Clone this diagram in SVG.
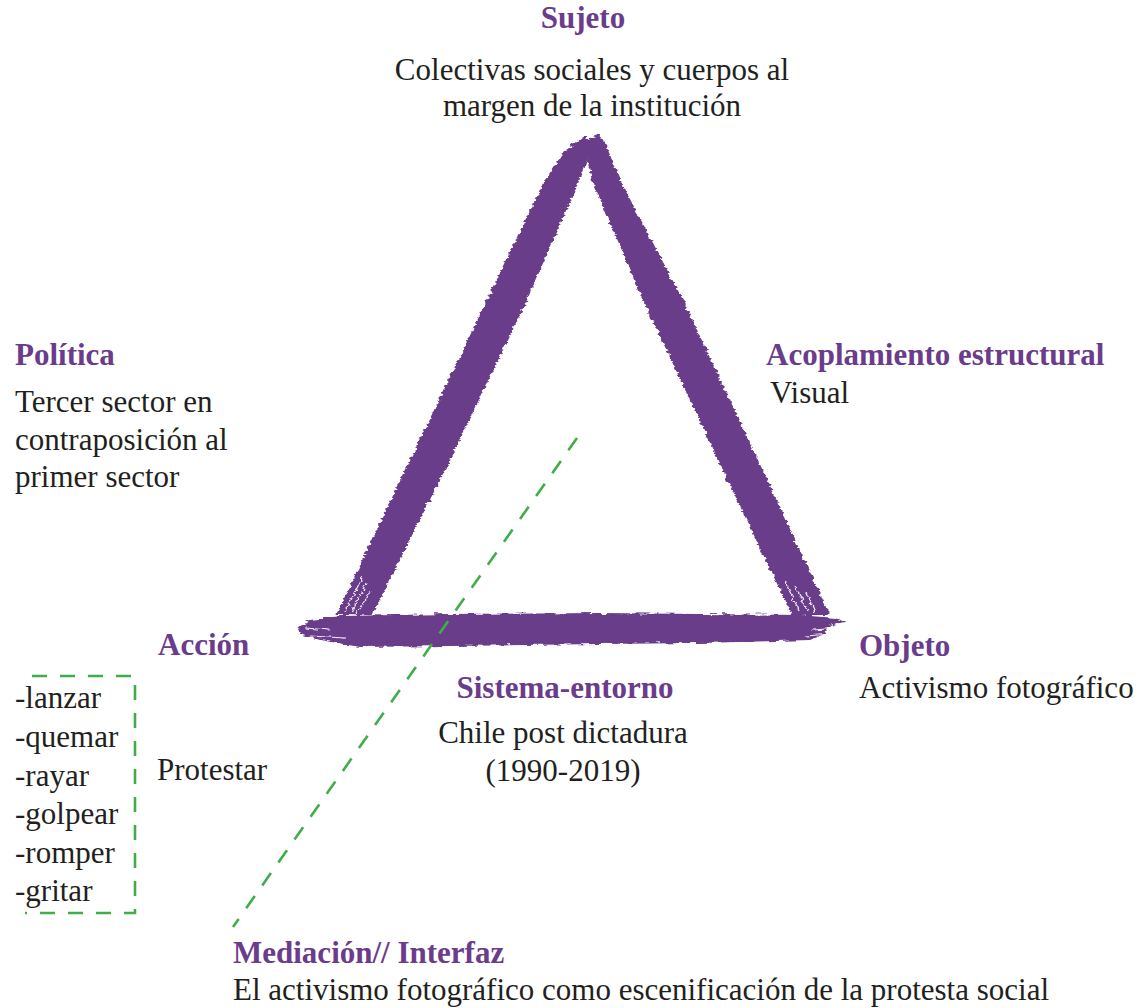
<svg xmlns="http://www.w3.org/2000/svg" width="1141" height="1008" viewBox="0 0 1141 1008">
<defs>
<style>
text{font-family:"Liberation Serif","Times New Roman",serif;font-size:31px;fill:#231f20}
.h{font-weight:bold;fill:#6a3c8b}
.brush{fill:#6a3c8b}
.streak{stroke:#ffffff;stroke-width:1.2;fill:none;opacity:0.9}
.dash{fill:none;stroke:#3fae49;stroke-width:2.6;stroke-dasharray:15 13}
</style>
<filter id="rough" x="-5%" y="-5%" width="110%" height="110%">
<feTurbulence type="fractalNoise" baseFrequency="0.09 0.35" numOctaves="2" seed="3" result="n"/>
<feDisplacementMap in="SourceGraphic" in2="n" scale="6" xChannelSelector="R" yChannelSelector="G"/>
</filter>
</defs>
<rect width="1141" height="1008" fill="#ffffff"/>
<g id="triangle" filter="url(#rough)">
<polygon class="brush" points="586,136 592,145 584,170 575,190 527,300 450,460 372,615 336,615 410,460 487,300 545,180 565,150"/>
<polygon class="brush" points="590,137 598,134 606,145 620,180 683,300 758,460 830,615 792,615 718,460 643,300 592,180 586,155"/>
<polygon class="brush" points="298,628 310,620 340,616 450,614 600,613 700,614 800,615 835,618 845,622 830,626 825,634 810,640 700,643 600,644 450,646 360,647 320,640 300,634"/>
<path class="streak" d="M345,612 L362,578 M352,612 L366,584 M356,613 L371,592 M800,612 L784,580 M808,612 L795,586 M815,612 L806,592 M812,630 L840,628 M805,636 L832,634 M310,636 L345,638 M305,628 L330,630"/>
</g>
<g id="connectors">
<line class="dash" x1="577" y1="438" x2="233" y2="927"/>
<path class="dash" d="M32,676 H135 V913 H25"/>
</g>
<g id="sujeto">
<text class="h" x="583" y="28" text-anchor="middle">Sujeto</text>
<text x="592" y="80" text-anchor="middle">Colectivas sociales y cuerpos al</text>
<text x="592" y="116" text-anchor="middle">margen de la institución</text>
</g>
<g id="politica">
<text class="h" x="15" y="365">Política</text>
<text x="15" y="412">Tercer sector en</text>
<text x="15" y="450">contraposición al</text>
<text x="15" y="487">primer sector</text>
</g>
<g id="acoplamiento">
<text class="h" x="766" y="365">Acoplamiento estructural</text>
<text x="770" y="403">Visual</text>
</g>
<g id="accion">
<text class="h" x="158" y="655">Acción</text>
<text x="157" y="780">Protestar</text>
<text x="15" y="708">-lanzar</text>
<text x="15" y="747">-quemar</text>
<text x="15" y="786">-rayar</text>
<text x="15" y="824">-golpear</text>
<text x="15" y="863">-romper</text>
<text x="15" y="901">-gritar</text>
</g>
<g id="objeto">
<text class="h" x="859" y="656">Objeto</text>
<text x="859" y="698">Activismo fotográfico</text>
</g>
<g id="sistema">
<text class="h" x="565" y="698" text-anchor="middle">Sistema-entorno</text>
<text x="563" y="743" text-anchor="middle">Chile post dictadura</text>
<text x="563" y="781" text-anchor="middle">(1990-2019)</text>
</g>
<g id="mediacion">
<text class="h" x="233" y="963">Mediación// Interfaz</text>
<text x="233" y="1000">El activismo fotográfico como escenificación de la protesta social</text>
</g>
</svg>
